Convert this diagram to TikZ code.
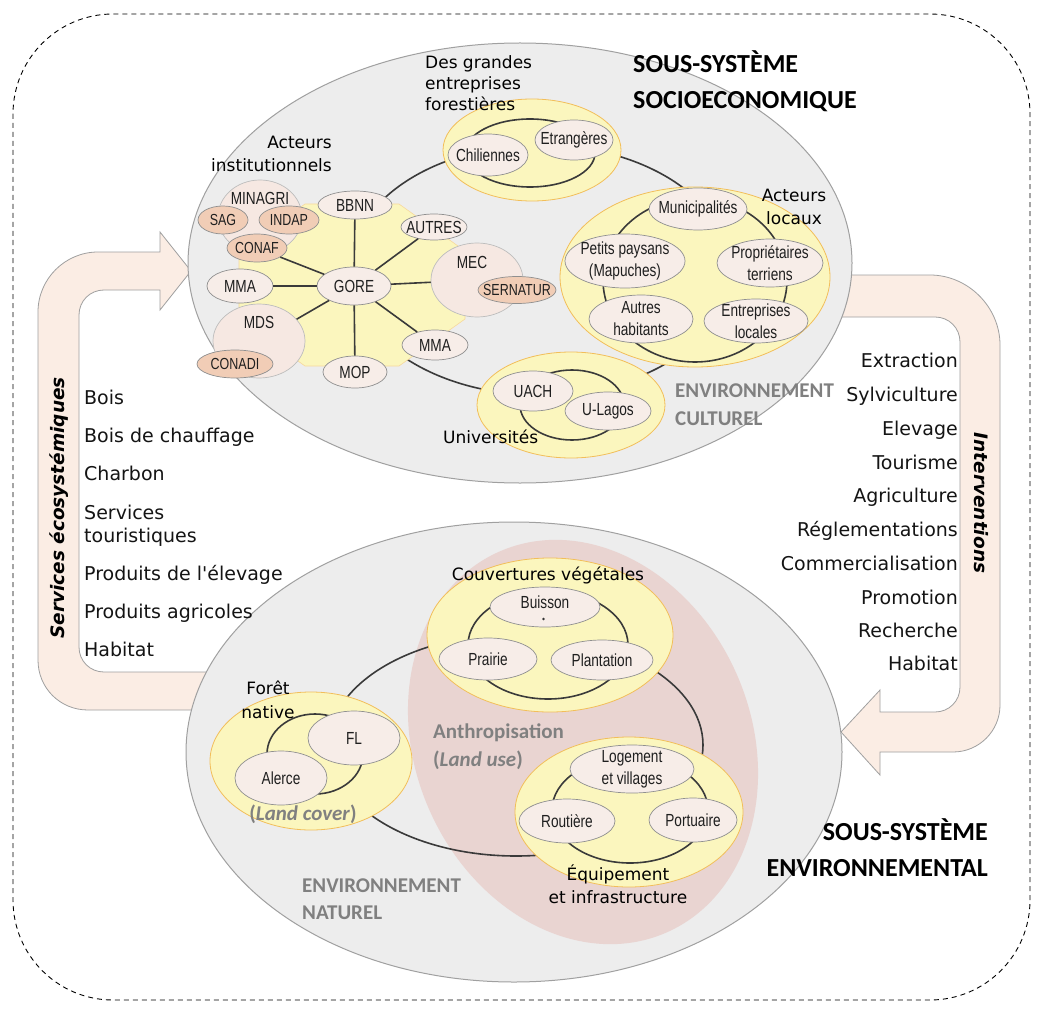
\documentclass[tikz,border=0pt]{standalone}
\usepackage{fontspec}
\setmainfont{DejaVu Sans}[Ligatures=TeXOff]
\newfontfamily\narrowfont[FakeStretch=0.78]{Liberation Sans}
\newfontfamily\calfont{Carlito}
\usetikzlibrary{shapes.geometric}
\definecolor{ndfill}{HTML}{F7EDE8}
\definecolor{ndborder}{HTML}{8F8F8F}
\definecolor{dkfill}{HTML}{F1CDB6}
\definecolor{bigfill}{HTML}{F6E8E2}
\definecolor{bigborder}{HTML}{BDBDBD}
\definecolor{yelfill}{HTML}{FBF6BE}
\definecolor{yelborder}{HTML}{F2BE5A}
\definecolor{grayfill}{HTML}{EDEDED}
\definecolor{grayborder}{HTML}{A0A0A0}
\definecolor{pinkfill}{HTML}{E9D4D1}
\definecolor{arrowfill}{HTML}{FBEDE4}
\definecolor{ringcol}{HTML}{3A3A3A}
\definecolor{graytxt}{HTML}{808080}
\tikzset{
  ell/.style={ellipse, inner sep=0pt, draw=ndborder, fill=ndfill, line width=0.7pt},
  dk/.style={ell, fill=dkfill},
  big/.style={ell, fill=bigfill, draw=bigborder},
  yel/.style={ellipse, inner sep=0pt, draw=yelborder, fill=yelfill, line width=0.8pt},
  ez/.style 2 args={minimum width=#1pt, minimum height=#2pt},
  ltxt/.style={font=\narrowfont\fontsize{17.5}{22}\selectfont, align=center, inner sep=0pt, text=black!88},
  txt/.style={label={[ltxt]center:#1}},
  stxt/.style={label={[ltxt, font=\narrowfont\fontsize{16}{18}\selectfont]center:#1}},
  ring/.style={draw=ringcol, line width=1.6pt},
  spoke/.style={draw=ringcol, line width=1.6pt},
  glbl/.style={font=\fontsize{17}{21}\selectfont, inner sep=0pt},
  lst/.style={font=\fontsize{19}{23}\selectfont, inner sep=0pt, text=black!92},
  gtitle/.style={font=\calfont\bfseries\fontsize{26}{30}\selectfont, inner sep=0pt},
  genv/.style={font=\calfont\bfseries\fontsize{21}{25}\selectfont, text=graytxt, inner sep=0pt},
  arr/.style={draw=grayborder, fill=arrowfill, line width=0.8pt},
  vtitle/.style={font=\bfseries\itshape\fontsize{18.5}{22}\selectfont, inner sep=0pt}
}
\begin{document}
\begin{tikzpicture}[x=1pt, y=-1pt]
\useasboundingbox (0,0) rectangle (1040,1008);
\fill[white] (0,0) rectangle (1040,1008);

% outer dashed frame
\draw[dash pattern=on 5pt off 4pt, line width=0.9pt, rounded corners=100pt] (13,14) rectangle (1030,1000);

% arrows
\path[arr] (230,710) -- (88,710) .. controls (60,710) and (38,688) .. (38,660) -- (38,312) .. controls (38,279) and (65,252) .. (98,252) -- (160,252) -- (160,232) -- (191,271) -- (160,310) -- (160,290) -- (104,290) .. controls (90,290) and (79,301) .. (79,315) -- (79,647) .. controls (79,661) and (90,672) .. (104,672) -- (230,672) -- cycle;
\path[arr] (830,275) -- (930,275) .. controls (968,275) and (1000,307) .. (1000,345) -- (1000,705) .. controls (1000,731) and (979,752) .. (953,752) -- (880,752) -- (880,775) -- (841,732) -- (880,690) -- (880,712) -- (935,712) .. controls (949,712) and (960,701) .. (960,687) -- (960,342) .. controls (960,328) and (949,317) .. (935,317) -- (830,317) -- cycle;

% big grey ellipses
\draw[draw=grayborder, fill=grayfill, line width=1pt] (520,263) ellipse [x radius=332pt, y radius=220pt];
\draw[draw=grayborder, fill=grayfill, line width=1pt] (514,752) ellipse [x radius=328pt, y radius=230pt];

% anthropisation zone
\fill[pinkfill, rotate around={-66.4:(583,742)}] (583,742) ellipse [x radius=208pt, y radius=168pt];

% big rings
\draw[ring] (540,270) ellipse [x radius=190pt, y radius=125pt];
\draw[ring] (516,745) ellipse [x radius=187pt, y radius=111pt];

% institutional actors
\filldraw[fill=yelfill, draw=yelborder!60, line width=0.6pt] (465,251) -- (399,204) -- (305,204) -- (239,251) -- (239,319) -- (305,366) -- (399,366) -- (465,319) -- cycle;
\node[big, ez={84}{74}, label={[ltxt,yshift=19pt]center:MINAGRI}] (minagri) at (260,217) {};
\node[dk, ez={50}{28}, stxt=SAG] (sag) at (223,220) {};
\node[dk, ez={60}{28}, stxt=INDAP] (indap) at (289,220) {};
\node[dk, ez={60}{28}, stxt=CONAF] (conaf) at (257,248) {};
\node[ell, ez={66}{34}, txt=MMA] (mmaA) at (240,286) {};
\node[big, ez={92}{74}, label={[ltxt,yshift=19pt]center:MDS}] (mds) at (259,341) {};
\node[dk, ez={76}{28}, stxt=CONADI] (conadi) at (235,364) {};
\node[ell, ez={74}{38}, txt=GORE] (gore) at (354,286) {};
\node[ell, ez={74}{28}, txt=BBNN] (bbnn) at (355,205) {};
\node[ell, ez={66}{26}, txt=AUTRES] (autres) at (434,227) {};
\node[big, ez={92}{74}, label={[ltxt,yshift=18pt,xshift=-5pt]center:MEC}] (mec) at (477,280) {};
\node[dk, ez={78}{27}, stxt=SERNATUR] (sernatur) at (517,290) {};
\node[ell, ez={66}{30}, txt=MMA] (mmaB) at (435,345) {};
\node[ell, ez={64}{32}, txt=MOP] (mop) at (355,372) {};
\foreach \t in {bbnn,autres,mec,mmaB,mop,mds,mmaA,conaf}
  \draw[spoke] (gore) -- (\t);

% grandes entreprises
\node[yel, ez={178}{102}] (ge) at (532,150) {};
\draw[ring] (530,153) ellipse [x radius=65pt, y radius=34pt];
\node[ell, ez={80}{42}, txt=Chiliennes] (chil) at (488,155) {};
\node[ell, ez={78}{40}, txt=Etrangères] (etr) at (574,140) {};

% acteurs locaux
\node[yel, ez={270}{180}] (gl) at (695,277) {};
\draw[ring] (695,280) ellipse [x radius=92pt, y radius=82pt];
\node[ell, ez={98}{42}, txt=Municipalités] (muni) at (698,209) {};
\node[ell, ez={120}{54}, txt={Petits paysans\\(Mapuches)}] (pp) at (625,261) {};
\node[ell, ez={106}{48}, txt={Propriétaires\\terriens}] (prop) at (770,263) {};
\node[ell, ez={104}{48}, txt={Autres\\habitants}] (ah) at (641,319) {};
\node[ell, ez={104}{44}, txt={Entreprises\\locales}] (el) at (756,321) {};

% universites
\node[yel, ez={188}{106}] (gu) at (571,405) {};
\draw[ring] (572,405) ellipse [x radius=52pt, y radius=35pt];
\node[ell, ez={80}{40}, txt=UACH] (uach) at (533,391) {};
\node[ell, ez={86}{38}, txt=U-Lagos] (ulagos) at (608,411) {};

% couvertures vegetales
\node[yel, ez={246}{154}] (gc) at (550,635) {};
\draw[ring] (548,645) ellipse [x radius=80pt, y radius=54pt];
\node[ell, ez={110}{40}, label={[font=\narrowfont\fontsize{17.5}{20}\selectfont, inner sep=0pt, text=black!88, yshift=5pt]center:Buisson}] (buis) at (545,607) {};
\fill[black!80] (543.5,619) circle [radius=1.3pt];
\node[ell, ez={98}{42}, txt=Prairie] (prai) at (488,659) {};
\node[ell, ez={102}{40}, txt=Plantation] (plan) at (602,660) {};

% foret native
\node[yel, ez={202}{138}] (gf) at (311,761) {};
\draw[ring] (315,754) ellipse [x radius=48pt, y radius=40pt];
\node[ell, ez={92}{54}, txt=FL] (fl) at (354,738) {};
\node[ell, ez={92}{54}, txt=Alerce] (alerce) at (281,778) {};

% equipement
\node[yel, ez={228}{150}] (gq) at (629,812) {};
\draw[ring] (630,810) ellipse [x radius=78pt, y radius=53pt];
\node[ell, ez={124}{48}, txt={Logement\\et villages}] (loge) at (632,769) {};
\node[ell, ez={96}{44}, txt=Routière] (rout) at (567,821) {};
\node[ell, ez={88}{44}, txt=Portuaire] (port) at (693,820) {};

% group labels
\node[glbl, anchor=base east] (lai1) at (332,149) {Acteurs};
\node[glbl, anchor=base east] (lai2) at (332,172) {institutionnels};
\node[glbl, anchor=base west] (lge1) at (425,69) {Des grandes};
\node[glbl, anchor=base west] (lge2) at (425,90) {entreprises};
\node[glbl, anchor=base west] (lge3) at (425,111) {forestières};
\node[glbl, anchor=base] (lal1) at (794,202) {Acteurs};
\node[glbl, anchor=base] (lal2) at (794,225) {locaux};
\node[glbl, anchor=base west] (lu) at (443,443) {Universités};
\node[glbl, anchor=base] (lcv) at (548,580) {Couvertures végétales};
\node[glbl, anchor=base] (lfn1) at (268,694) {Forêt};
\node[glbl, anchor=base] (lfn2) at (268,718) {native};
\node[glbl, anchor=base] (leq1) at (618,880) {Équipement};
\node[glbl, anchor=base] (leq2) at (618,903) {et infrastructure};

% grey environment labels
\node[genv, anchor=base west] (ec1) at (675,397) {ENVIRONNEMENT};
\node[genv, anchor=base west] (ec2) at (675,425) {CULTUREL};
\node[genv, anchor=base west] (en1) at (302,892) {ENVIRONNEMENT};
\node[genv, anchor=base west] (en2) at (302,919) {NATUREL};
\node[genv, anchor=base west] (an1) at (433,738) {Anthropisation};
\node[genv, anchor=base west] (an2) at (433,766) {(\textit{Land use})};
\node[genv, anchor=base] (lc) at (303,820) {(\textit{Land cover})};

% titles
\node[gtitle, anchor=base west] (t1) at (633,73) {SOUS-SYSTÈME};
\node[gtitle, anchor=base west] (t2) at (633,109) {SOCIOECONOMIQUE};
\node[gtitle, anchor=base east] (t3) at (988,840) {SOUS-SYSTÈME};
\node[gtitle, anchor=base east] (t4) at (988,876) {ENVIRONNEMENTAL};

% arrow titles
\node[vtitle, rotate=90] (srv) at (59,508) {Services écosystémiques};
\node[vtitle, rotate=-90] (itv) at (981,503) {Interventions};

% left list
\node[lst, anchor=base west] (s1) at (84,404) {Bois};
\node[lst, anchor=base west] (s2) at (84,442) {Bois de chauffage};
\node[lst, anchor=base west] (s3) at (84,480) {Charbon};
\node[lst, anchor=base west] (s4) at (84,519) {Services};
\node[lst, anchor=base west] (s5) at (84,542) {touristiques};
\node[lst, anchor=base west] (s6) at (84,580) {Produits de l'élevage};
\node[lst, anchor=base west] (s7) at (84,618) {Produits agricoles};
\node[lst, anchor=base west] (s8) at (84,656) {Habitat};

% right list
\node[lst, anchor=base east] (r1) at (958,367) {Extraction};
\node[lst, anchor=base east] (r2) at (958,401) {Sylviculture};
\node[lst, anchor=base east] (r3) at (958,435) {Elevage};
\node[lst, anchor=base east] (r4) at (958,469) {Tourisme};
\node[lst, anchor=base east] (r5) at (958,502) {Agriculture};
\node[lst, anchor=base east] (r6) at (958,536) {Réglementations};
\node[lst, anchor=base east] (r7) at (958,570) {Commercialisation};
\node[lst, anchor=base east] (r8) at (958,604) {Promotion};
\node[lst, anchor=base east] (r9) at (958,637) {Recherche};
\node[lst, anchor=base east] (r10) at (958,670) {Habitat};
\end{tikzpicture}
\end{document}
